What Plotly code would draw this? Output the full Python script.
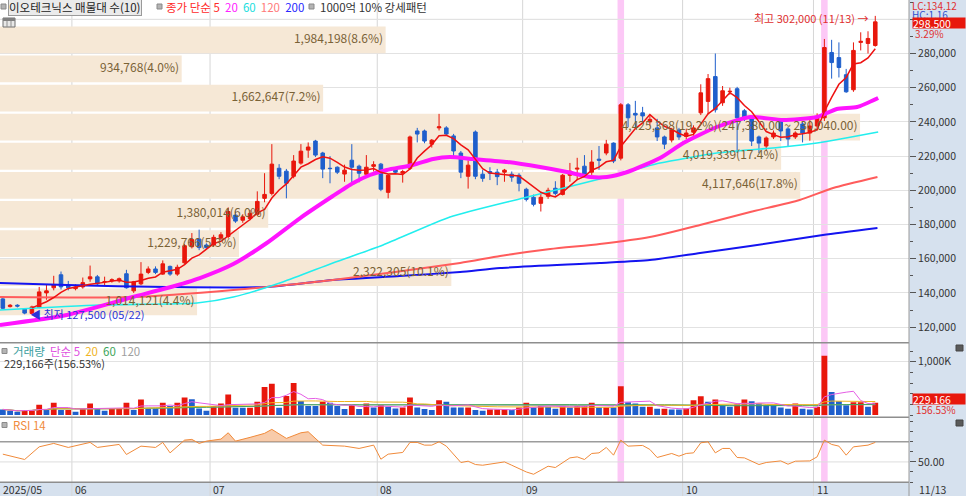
import plotly.graph_objects as go
import pandas as pd

# ---------------- data ----------------
FIRST_IDX = -10  # trading-day index of first candle (0 = 2025-06-02)

opens = [136500,132000,132800,130500,128000,131500,140000,143000,150600,144500,
         142500,143500,148200,149400,146500,147000,147000,151200,141200,145300,
         152000,154000,151000,155500,151000,157600,167000,171500,168000,168000,
         172000,173000,185500,182500,183500,186000,195300,198200,212900,211200,
         208200,215900,223500,228800,221800,212900,213500,209500,217600,214100,
         209400,214000,215300,198800,212900,210000,212900,234700,234700,227000,
         236500,236500,231800,221800,208200,234100,209400,211000,210600,210600,
         209400,208800,200600,195900,192400,196500,201200,197600,208800,212400,
         214100,210600,218200,221800,227600,218800,250000,245000,245300,240000,
         236500,231200,229400,235300,231500,234000,245300,252000,266500,251200,
         257600,259400,246500,242900,231200,225900,231200,241200,235900,231200,
         238800,233500,237600,242400,280600,277600,267600,258800,286500,285900,284700]
highs = [137500,133500,133400,131000,132500,143500,145000,150000,152500,147000,
         145000,149000,156000,150500,149500,148500,149000,153500,147000,158000,
         155500,155500,159000,156000,156500,168500,175000,177000,169000,174000,
         175500,190000,188000,186000,188500,199400,210000,227000,215300,212500,
         220600,227000,228000,229500,222500,220000,214000,215000,227000,215000,
         220600,217000,216000,209500,213500,212000,232000,236500,235500,230000,
         244700,237500,233000,223000,217500,235000,212000,213500,212500,212500,
         211000,210000,201500,197500,199000,201500,205300,209500,216000,219000,
         220600,223500,225900,229500,228000,251000,251000,252300,248800,243500,
         241800,232000,236500,236500,236000,238000,262000,268000,280000,261000,
         260000,260500,247500,244000,232000,231500,235000,242000,237000,234500,
         240000,241800,245000,288500,288000,286500,271000,286500,292400,293000,302000]
lows = [130500,131500,131500,127500,127800,131000,136000,141500,142000,141500,
        141500,142500,146500,144000,144500,146000,146000,142500,140000,144500,
        151000,151000,150500,150000,150000,157000,166000,165000,165500,167000,
        171000,172000,181000,181000,182500,185000,193000,197000,206500,195300,
        207000,215000,219000,219500,207100,204100,209500,205000,204700,204700,
        208000,211000,199500,195300,209500,204500,212000,228000,227500,225000,
        235000,232000,220000,207100,201000,206500,205000,206000,203000,205000,
        205000,199400,193500,190600,187600,195000,197000,197000,205000,206000,
        208000,209000,212000,220500,215900,217500,237000,236500,239000,238000,
        228800,224100,228000,229500,230000,232000,244000,244500,245500,249400,
        255900,221800,240500,225900,221800,222900,230000,228800,225900,230000,
        228000,229000,235000,240500,265300,266000,257000,257600,281800,280000,284000]
closes = [131000,132800,132300,128200,131800,140600,141200,144700,143500,143000,
          143500,146000,149400,145300,146600,147700,148300,143000,146500,151000,
          154000,152000,157000,151000,155000,167600,171200,166500,166500,172500,
          174000,187600,182000,184500,186500,193500,197600,215300,208200,204100,
          217100,222900,225300,220600,212400,212700,210600,211800,213500,210000,
          213500,215000,200600,208800,210600,211000,231200,232900,228800,229300,
          237100,232900,223000,210600,214700,208200,207000,210000,208000,211800,
          207700,204100,194700,191800,195900,200000,198200,208800,211200,212900,
          209400,216500,217600,227000,217100,250000,242400,244000,243500,241500,
          231200,227000,235300,231200,233500,236500,257000,265300,247100,258200,
          257900,242400,242400,228800,227600,230600,233500,234700,230000,233500,
          233500,237600,242400,283500,274700,271800,257600,281800,287100,288800,298500]

volume_k = [105,74,62,93,93,191,93,228,93,93,
            62,111,216,123,80,111,123,228,93,290,
            123,123,228,167,228,327,296,123,80,167,
            216,383,136,136,136,247,524,586,136,358,
            598,265,167,167,247,228,167,111,185,111,
            216,142,185,154,123,142,327,142,111,93,
            278,247,142,142,142,93,80,105,105,105,
            93,142,228,142,179,154,117,179,142,179,
            179,228,142,142,142,537,240,216,154,154,
            117,117,105,105,123,278,352,247,290,167,
            154,204,290,259,216,185,185,142,117,216,
            117,105,154,1110,432,259,185,240,240,154,229.166]
volume_up = [0,0,0,1,1,1,0,1,0,1,
             0,1,1,0,0,1,1,1,0,1,
             0,0,1,0,1,1,0,0,0,1,
             1,1,0,0,1,1,1,1,0,1,
             1,0,0,0,1,0,0,0,1,0,
             1,0,1,0,0,1,1,0,0,0,
             1,0,0,0,1,0,0,1,1,1,
             0,1,1,0,1,0,0,1,0,1,
             1,1,0,1,0,1,0,0,0,1,
             0,1,0,0,1,1,1,0,1,0,
             0,1,1,0,0,0,0,0,0,1,
             0,0,1,1,0,0,0,1,1,0,1]

month_start_idx = [0, 19, 42, 62, 84, 102]
month_labels = ["06", "07", "08", "09", "10", "11"]
first_label = "2025/05"
last_label = "11/13"

# moving averages (longer history than shown)
ma20_idx = [-10.4,-1.2,7.9,12.6,17.1,21.7,26.3,30.9,35.4,38.2,40.5,42.8,46.4,49.2,51.5,54.7,59.4,63.9,67.6,70.8,73.1,75.9,80.4,83.6,88.2,92.8,97.3,102.0,104.7,107.5,110.4]
ma20_val = [121230,127080,137600,142860,148710,156900,169180,183800,196670,204270,208950,211870,214800,218300,219470,218300,216550,213630,210700,207780,207780,210700,218890,227660,237020,242870,241110,242870,247540,248710,253980]
ma60_idx = [-10.4,3.4,16.7,21.7,28.5,35.4,42.3,51.5,61.6,72.1,77.7,80.4,88.2,97.3,102.0,110.4]
ma60_val = [130000,132920,134090,137600,146370,157490,168010,184390,195500,206610,213040,215960,221810,225320,227660,234090]
ma120_idx = [-10.4,8.0,21.7,35.4,52.9,58.4,65.3,72.1,79.0,85.9,92.8,99.6,104.2,110.3]
ma120_val = [137600,137600,141700,147540,157490,161580,165670,168600,172690,179710,187310,194330,201340,207780]
ma200_idx = [-10.4,-1.2,12.6,26.3,35.4,44.6,52.9,58.4,72.1,79.0,85.9,92.8,102.8,110.3]
ma200_val = [145790,144620,143450,143450,147540,149880,152220,154560,157490,159240,163330,167430,173860,177950]

# volume profile (매물대), bottom band first
profile_low = 126300
profile_step = 17020
profile_vol = [1014121, 2322305, 1229766, 1380014, 4117646, 4019339, 4425368, 1662647, 934768, 1984198]
profile_text = ["1,014,121(4.4%)", "2,322,305(10.1%)", "1,229,766(5.3%)", "1,380,014(6.0%)",
                "4,117,646(17.8%)", "4,019,339(17.4%)", "4,425,368(19.2%)(247,380.00 ~ 230,040.00)",
                "1,662,647(7.2%)", "934,768(4.0%)", "1,984,198(8.6%)"]

rsi_idx = [-10,-9,-7,-5,-3,-1,2,3,6,7,9,11,12,13,15,16,17,18,20,21,22,24,26,27,29,31,32,34,37,39,41,42,43,45,46,47,48,49,50,51,53,54,55,56,58,59,60,62,63,65,66,68,69,70,71,72,73,74,75,76,78,79,80,82,83,84,85,86,87,88,89,90,91,92,94,95,97,98,99,101,102,103,104,105,106,107,109,110]
rsi_val = [57.7,56,52.4,65,68.4,64.4,69.4,64.4,67.4,57.4,65.7,64.4,69.4,59,71.7,72.4,68.4,70.7,72.7,79,70.7,74.4,78.4,82.4,73.4,79,80,66.7,65.7,63.4,66.7,52.7,57.7,59.4,69.4,69.4,66.7,66.7,70,65.7,49.4,50.7,47.4,46.7,48.4,50,46.7,40,37.7,45.7,44.4,54,55,52.4,58.4,59,64.4,56.7,71.7,65.7,66.4,62.4,54.4,58.4,55.7,58.4,59,69,70,59,63.4,63.4,54.4,54,47.4,49.4,51,47.7,50.7,51,55,71.7,67.4,65.7,56.7,65,66.7,69.4]

highlight_idx = [75, 103]
last_vol_text = "229,166주(156.53%)"

# ---------------- layout constants ----------------
FONT = "Noto Sans CJK KR, DejaVu Sans, sans-serif"
W, H = 966, 496
PW, PH = 909, 483
X0, X1 = -10.39, 114.64
PROFILE_FULL = 118.3
RED = "#e8170c"
BLUE = "#1f5fcc"
RIGHT_BG = "#d6e1ee"

def px(x): return x / PW
def py(y): return 1 - y / PH

x_idx = list(range(FIRST_IDX, FIRST_IDX + len(closes)))
df = pd.DataFrame({"x": x_idx, "c": closes, "v": [v * 1000 for v in volume_k]})
ma5 = df["c"].rolling(5).mean()

fig = go.Figure()

# volume profile bars
vmax = max(profile_vol)
centers = [profile_low + (k + 0.5) * profile_step for k in range(len(profile_vol))]
widths = [v / vmax * PROFILE_FULL for v in profile_vol]
fig.add_trace(go.Bar(orientation="h", y=centers, x=widths, base=X0, width=profile_step * 0.92,
                     marker=dict(color="#f6e8d6", line=dict(width=0)), hoverinfo="skip",
                     xaxis="x", yaxis="y"))

for xs, ys, col, wd in [(ma200_idx, ma200_val, "#1414f0", 2),
                        (ma120_idx, ma120_val, "#ff5c5c", 2),
                        (ma60_idx, ma60_val, "#22eeee", 1.6),
                        (ma20_idx, ma20_val, "#ff14ff", 4)]:
    fig.add_trace(go.Scatter(x=xs, y=ys, mode="lines", line=dict(color=col, width=wd, shape="spline", smoothing=0.6),
                             hoverinfo="skip", xaxis="x", yaxis="y"))

fig.add_trace(go.Candlestick(x=x_idx, open=opens, high=highs, low=lows, close=closes,
                             increasing=dict(line=dict(color=RED, width=1), fillcolor=RED),
                             decreasing=dict(line=dict(color=BLUE, width=1), fillcolor=BLUE),
                             whiskerwidth=0, hoverinfo="skip", xaxis="x", yaxis="y"))

fig.add_trace(go.Scatter(x=x_idx, y=ma5, mode="lines", line=dict(color="#ee1111", width=1.5),
                         hoverinfo="skip", xaxis="x", yaxis="y"))

fig.add_trace(go.Scatter(x=[X0 + w - 0.35 for w in widths], y=centers, mode="text", text=profile_text,
                         textposition="middle left", textfont=dict(family=FONT, size=12, color="#7a6236"),
                         hoverinfo="skip", xaxis="x", yaxis="y"))

# volume
fig.add_trace(go.Bar(x=x_idx, y=df["v"], width=0.8,
                     marker=dict(color=[RED if u else BLUE for u in volume_up], line=dict(width=0)),
                     hoverinfo="skip", xaxis="x2", yaxis="y2"))
for n, col in [(120, "#a8a8a8"), (60, "#3ea65a"), (20, "#f0b41e"), (5, "#e45ee4")]:
    fig.add_trace(go.Scatter(x=x_idx, y=df["v"].rolling(n, min_periods=1).mean(), mode="lines",
                             line=dict(color=col, width=1), hoverinfo="skip", xaxis="x2", yaxis="y2"))

# RSI with fill above 70
fx, fy = [], []
for i, (xv, yv) in enumerate(zip(rsi_idx, rsi_val)):
    if i > 0:
        xa, ya = rsi_idx[i - 1], rsi_val[i - 1]
        if (ya - 70) * (yv - 70) < 0:
            t = (70 - ya) / (yv - ya)
            fx.append(xa + t * (xv - xa)); fy.append(70)
    fx.append(xv); fy.append(max(yv, 70))
fig.add_trace(go.Scatter(x=fx, y=[70] * len(fx), mode="lines", line=dict(width=0), hoverinfo="skip",
                         xaxis="x3", yaxis="y3"))
fig.add_trace(go.Scatter(x=fx, y=fy, mode="lines", line=dict(width=0), fill="tonexty",
                         fillcolor="rgba(242,160,100,0.55)", hoverinfo="skip", xaxis="x3", yaxis="y3"))
fig.add_trace(go.Scatter(x=rsi_idx, y=rsi_val, mode="lines", line=dict(color="#f08a3a", width=1),
                         hoverinfo="skip", xaxis="x3", yaxis="y3"))

# ---------------- shapes ----------------
shapes = []
shapes.append(dict(type="rect", xref="paper", yref="paper", x0=1, x1=W / PW, y0=-13 / PH, y1=1,
                   fillcolor=RIGHT_BG, line=dict(width=0), layer="below"))
shapes.append(dict(type="rect", xref="paper", yref="paper", x0=0, x1=1, y0=-13 / PH, y1=py(483),
                   fillcolor=RIGHT_BG, line=dict(width=0), layer="below"))
for h in highlight_idx:
    shapes.append(dict(type="rect", xref="x", yref="paper", x0=h - 0.45, x1=h + 0.45, y0=py(482), y1=1,
                       fillcolor="#fcc8f6", line=dict(width=0), layer="below"))
for m in month_start_idx:
    shapes.append(dict(type="line", xref="x", yref="paper", x0=m - 0.5, x1=m - 0.5, y0=-13 / PH, y1=1,
                       line=dict(color="#d6d6d6", width=1), layer="below"))
shapes.append(dict(type="line", xref="paper", yref="y", x0=0, x1=1, y0=300000, y1=300000,
                   line=dict(color="#e2e2e2", width=1), layer="below"))
shapes.append(dict(type="line", xref="paper", yref="y3", x0=0, x1=1, y0=70, y1=70,
                   line=dict(color="#9c9c9c", width=1.5), layer="below"))
shapes.append(dict(type="line", xref="paper", yref="y3", x0=0, x1=1, y0=50, y1=50,
                   line=dict(color="#dddddd", width=1), layer="below"))
for yy in [342.7, 417.3, 482.3]:
    shapes.append(dict(type="line", xref="paper", yref="paper", x0=0, x1=1, y0=py(yy), y1=py(yy),
                       line=dict(color="#8e8e8e", width=1.5)))
shapes.append(dict(type="line", xref="paper", yref="paper", x0=1, x1=1, y0=-13 / PH, y1=1,
                   line=dict(color="#9a9a9a", width=1)))
for (sx, sy) in [(1, 6.5), (157, 6.5), (309, 6.5), (2, 351), (2, 425)]:
    shapes.append(dict(type="rect", xref="paper", yref="paper", x0=px(sx), x1=px(sx + 5),
                       y0=py(sy + 2.5), y1=py(sy - 2.5), fillcolor="#b4b4b4", line=dict(color="#8a8a8a", width=1)))
shapes.append(dict(type="rect", xref="paper", yref="paper", x0=px(3), x1=px(15), y0=py(27), y1=py(18),
                   fillcolor="#e8e8e8", line=dict(color="#707070", width=1)))
for vx in [7, 11]:
    shapes.append(dict(type="line", xref="paper", yref="paper", x0=px(vx), x1=px(vx), y0=py(27), y1=py(20),
                       line=dict(color="#909090", width=1)))
shapes.append(dict(type="rect", xref="paper", yref="paper", x0=px(3), x1=px(15), y0=py(21), y1=py(18),
                   fillcolor="#808080", line=dict(width=0)))
for iy in [348, 423]:
    shapes.append(dict(type="rect", xref="paper", yref="paper", x0=px(956), x1=px(963), y0=py(iy + 3), y1=py(iy - 3),
                       fillcolor="#5a5a5a", line=dict(color="#444", width=1)))

# ---------------- annotations ----------------
ann = []
def text(x, y, s, color="#333333", anchor="left", size=11, **kw):
    ann.append(dict(xref="paper", yref="paper", x=px(x), y=py(y), text=s, showarrow=False,
                    xanchor=anchor, yanchor="middle", font=dict(family=FONT, size=size, color=color), **kw))

text(8, 6.5, "이오테크닉스 매물대 수(10)", color="#222", size=11.5, bgcolor="#ebebeb", bordercolor="#9a9a9a",
     borderwidth=1, borderpad=0)
text(164, 6.5, '<span style="color:#ff2a2a">종가 단순 5</span>  <span style="color:#ff22ff">20</span>  '
               '<span style="color:#22dede">60</span>  <span style="color:#ff7a7a">120</span>  '
               '<span style="color:#2828ff">200</span>', size=11.5)
text(318, 6.5, "1000억 10% 강세패턴", size=11.5)
text(11, 351, '<span style="color:#3b9e9e">거래량</span>  <span style="color:#e050e0">단순 5</span>  '
              '<span style="color:#f0b41e">20</span>  <span style="color:#3ea65a">60</span>  '
              '<span style="color:#a0a0a0">120</span>', size=11.5)
text(2, 363, last_vol_text)
text(11, 425, "RSI 14", color="#f08a3a", size=11.5)

# right side labels (stacked tightly as in the source)
text(910, 5, "LC:134.12", color="#e03030", size=10, height=10, valign="middle")
text(910, 14, "HC:1.16", color="#3050d0", size=10, height=8.5, valign="middle")
text(912, 23.5, f"{closes[-1]:,}", color="white", size=10.5, bgcolor=RED, width=52, height=10,
     align="left", valign="middle", borderpad=0)
text(913, 33.5, "3.29%", color="#e03030", size=10, height=9, valign="middle")
text(912, 398.7, f"{int(round(volume_k[-1] * 1000)):,}", color="white", size=10.5, bgcolor=RED, width=52,
     height=10, align="left", valign="middle", borderpad=0)
text(914, 409.5, "156.53%", color="#e03030", size=10, height=9, valign="middle")

# dates
text(1, 489.3, first_label, size=10.5)
for m, lab in zip(month_start_idx, month_labels):
    ann.append(dict(xref="x", yref="paper", x=m - 0.35, y=py(489.3), text=lab, showarrow=False,
                    xanchor="left", yanchor="middle", font=dict(family=FONT, size=10.5, color="#333")))
text(917, 489.3, last_label, size=10.5)

# high / low markers
hi_i = max(range(len(highs)), key=lambda i: highs[i])
lo_i = min(range(len(lows)), key=lambda i: lows[i])
ann.append(dict(xref="x", yref="y", x=x_idx[hi_i] - 0.6, y=highs[hi_i], yshift=-2,
                text=f"최고 {highs[hi_i]:,} (11/13) →", showarrow=False, xanchor="right", yanchor="middle",
                font=dict(family=FONT, size=11, color="#e03030")))
ann.append(dict(xref="x", yref="y", x=x_idx[lo_i] + 0.4, y=lows[lo_i],
                text=f"◀ 최저 {lows[lo_i]:,} (05/22)", showarrow=False, xanchor="left", yanchor="middle",
                font=dict(family=FONT, size=11, color="#2a34d8")))

axis_common = dict(showgrid=False, zeroline=False, showticklabels=False, range=[X0, X1], fixedrange=True)
tickfont = dict(family=FONT, size=10.5, color="#333")
price_ticks = list(range(120000, 300001, 20000))

fig.update_layout(
    width=W, height=H, margin=dict(l=0, r=W - PW, t=0, b=H - PH),
    paper_bgcolor="white", plot_bgcolor="white", showlegend=False, hovermode=False,
    xaxis=dict(anchor="y", rangeslider=dict(visible=False), **axis_common),
    xaxis2=dict(anchor="y2", matches="x", **axis_common),
    xaxis3=dict(anchor="y3", matches="x", **axis_common),
    yaxis=dict(domain=[py(342.7), 1], range=[110880, 311290], side="right", anchor="x",
               tickmode="array", tickvals=price_ticks,
               ticktext=[f"{v:,}" if v < 300000 else "" for v in price_ticks],
               ticks="outside", ticklen=6, tickcolor="#555", tickfont=tickfont,
               showgrid=True, gridcolor="#e2e2e2", gridwidth=1, zeroline=False, showline=False,
               minor=dict(tickmode="linear", tick0=0, dtick=10000, ticks="outside", ticklen=3,
                          tickcolor="#555", showgrid=False)),
    yaxis2=dict(domain=[py(417.3), py(342.7)], range=[-43000, 1356000], side="right", anchor="x2",
                tickmode="array", tickvals=[1000000], ticktext=["1,000K"],
                ticks="outside", ticklen=6, tickcolor="#555", tickfont=tickfont,
                showgrid=True, gridcolor="#e2e2e2", zeroline=False,
                minor=dict(tickmode="linear", tick0=0, dtick=200000, ticks="outside", ticklen=3,
                           tickcolor="#555", showgrid=False)),
    yaxis3=dict(domain=[py(482.3), py(417.3)], range=[29.7, 94.4], side="right", anchor="x3",
                tickmode="array", tickvals=[50], ticktext=["50.00"],
                ticks="outside", ticklen=6, tickcolor="#555", tickfont=tickfont,
                showgrid=False, zeroline=False,
                minor=dict(tickmode="linear", tick0=0, dtick=10, ticks="outside", ticklen=3,
                           tickcolor="#555", showgrid=False)),
    shapes=shapes, annotations=ann,
)

fig.write_html("out.html", config={"displayModeBar": False},
               post_script="document.body.style.margin='0px';document.body.style.overflow='hidden';")
